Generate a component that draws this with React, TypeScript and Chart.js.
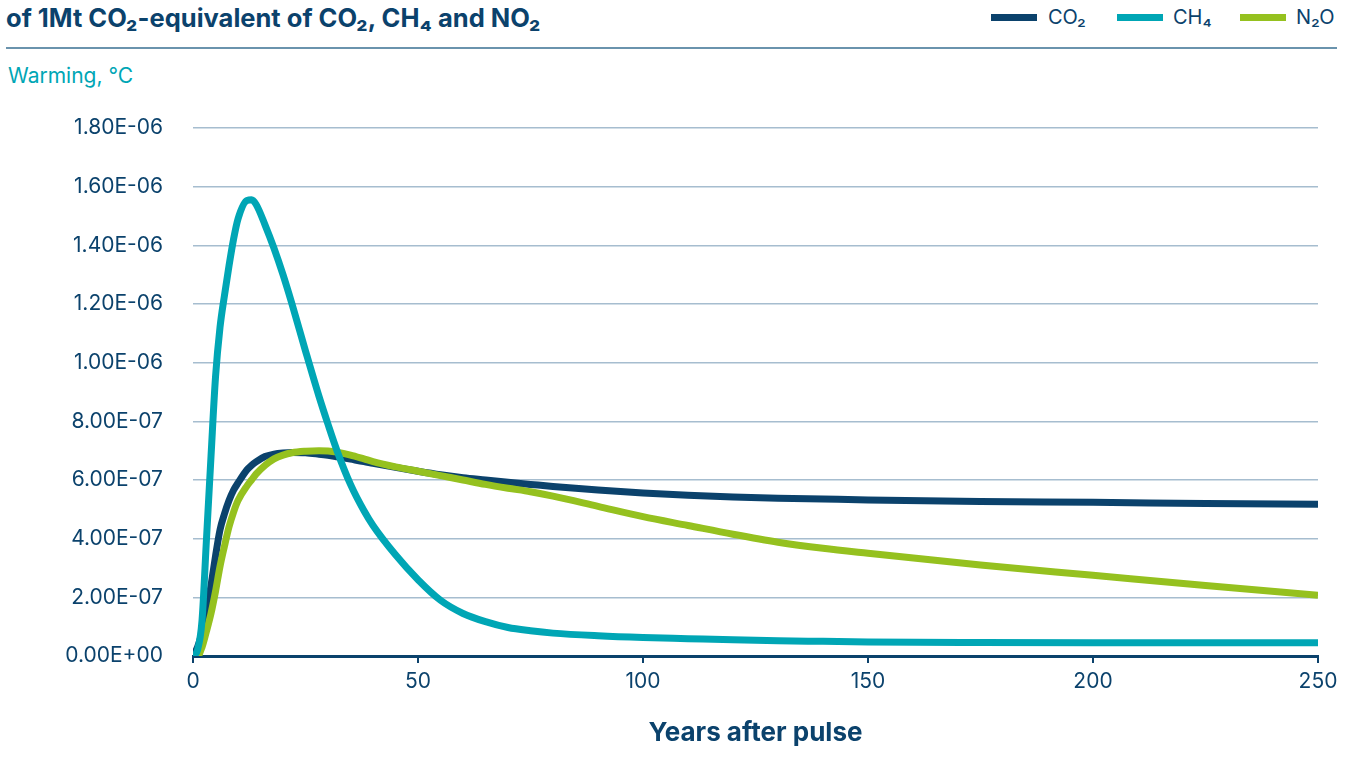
import React, { useEffect, useRef } from "react";
import { Chart, registerables } from "chart.js";

Chart.register(...registerables);

const years = [0, 1, 2, 3, 4, 5, 6, 7, 8, 9, 10, 12, 13, 14, 16, 18, 20, 22, 25, 28, 30, 32, 35, 38, 40, 45, 50, 55, 60, 65, 70, 75, 80, 90, 100, 110, 120, 130, 140, 150, 175, 200, 225, 250];

const co2 = [0, 0.3e-7, 0.8e-7, 1.5e-7, 2.4e-7, 3.4e-7, 4.3e-7, 4.85e-7, 5.3e-7, 5.65e-7, 5.9e-7, 6.35e-7, 6.5e-7, 6.62e-7, 6.8e-7, 6.88e-7, 6.92e-7, 6.94e-7, 6.93e-7, 6.88e-7, 6.84e-7, 6.79e-7, 6.71e-7, 6.63e-7, 6.57e-7, 6.43e-7, 6.3e-7, 6.18e-7, 6.08e-7, 6.0e-7, 5.92e-7, 5.85e-7, 5.78e-7, 5.66e-7, 5.56e-7, 5.48e-7, 5.42e-7, 5.38e-7, 5.35e-7, 5.32e-7, 5.27e-7, 5.24e-7, 5.2e-7, 5.17e-7];

const ch4 = [0, 0.2e-7, 1.2e-7, 4.0e-7, 6.8e-7, 9.5e-7, 1.12e-6, 1.23e-6, 1.33e-6, 1.42e-6, 1.49e-6, 1.553e-6, 1.555e-6, 1.54e-6, 1.47e-6, 1.39e-6, 1.3e-6, 1.2e-6, 1.04e-6, 0.885e-6, 0.79e-6, 0.7e-6, 0.585e-6, 0.495e-6, 0.445e-6, 0.345e-6, 0.26e-6, 0.19e-6, 0.145e-6, 0.117e-6, 0.097e-6, 0.086e-6, 0.078e-6, 0.069e-6, 0.063e-6, 0.059e-6, 0.055e-6, 0.052e-6, 0.05e-6, 0.048e-6, 0.046e-6, 0.045e-6, 0.045e-6, 0.045e-6];

const n2o = [0, 0, 0.3e-7, 0.85e-7, 1.45e-7, 2.2e-7, 3.05e-7, 3.75e-7, 4.4e-7, 4.9e-7, 5.3e-7, 5.8e-7, 6.0e-7, 6.2e-7, 6.5e-7, 6.72e-7, 6.85e-7, 6.93e-7, 6.98e-7, 7.0e-7, 6.99e-7, 6.95e-7, 6.85e-7, 6.72e-7, 6.63e-7, 6.45e-7, 6.3e-7, 6.15e-7, 6.0e-7, 5.85e-7, 5.72e-7, 5.6e-7, 5.45e-7, 5.1e-7, 4.75e-7, 4.45e-7, 4.15e-7, 3.88e-7, 3.67e-7, 3.5e-7, 3.1e-7, 2.75e-7, 2.4e-7, 2.07e-7];

const NAVY = "#0b426c";
const TEAL = "#00a6b5";
const GREEN = "#95c11f";
const GRID = "#a6bdcf";
const FONT = "Inter, 'Noto Sans', sans-serif";

const fmt = (v: number) => {
  if (Math.abs(v) < 1e-12) return "0.00E+00";
  const [m, e] = v.toExponential(2).split("e");
  const sign = e[0] === "-" ? "-" : "+";
  const d = e.replace(/[+-]/, "").padStart(2, "0");
  return `${m}E${sign}${d}`;
};

const pts = (vals: number[]) => years.map((x, i) => ({ x, y: vals[i] }));

const legendItems = [
  { label: "CO₂", color: NAVY, swatchX: 991, textX: 1048 },
  { label: "CH₄", color: TEAL, swatchX: 1117, textX: 1173 },
  { label: "N₂O", color: GREEN, swatchX: 1240, textX: 1296 },
];

export default function App() {
  const ref = useRef<HTMLCanvasElement>(null);
  useEffect(() => {
    if (!ref.current) return;
    const chart = new Chart(ref.current, {
      type: "line",
      data: {
        datasets: [
          { label: "CO₂", data: pts(co2), borderColor: NAVY, order: 2 },
          { label: "CH₄", data: pts(ch4), borderColor: TEAL, order: 0 },
          { label: "N₂O", data: pts(n2o), borderColor: GREEN, order: 1 },
        ].map((d) => ({
          ...d,
          borderWidth: 7,
          pointRadius: 0,
          fill: false,
          cubicInterpolationMode: "monotone" as const,
          borderCapStyle: "butt" as const,
        })),
      },
      options: {
        animation: false,
        responsive: true,
        maintainAspectRatio: false,
        layout: { padding: { top: 38, right: 34, left: 0, bottom: 0 } },
        plugins: { legend: { display: false }, tooltip: { enabled: false } },
        scales: {
          x: {
            type: "linear",
            min: 0,
            max: 250,
            ticks: { stepSize: 50, color: NAVY, font: { family: FONT, size: 21 }, padding: 6 },
            grid: { drawOnChartArea: false, drawTicks: true, tickLength: 7, color: NAVY, lineWidth: 2 },
            border: { color: NAVY, width: 3 },
            title: {
              display: true,
              text: "Years after pulse",
              color: NAVY,
              font: { family: FONT, size: 26, weight: "bold" },
              padding: { top: 0, bottom: 22 },
            },
            afterFit: (s: any) => { s.height = 115; },
          },
          y: {
            min: 0,
            max: 1.8e-6,
            ticks: { stepSize: 2e-7, color: NAVY, font: { family: FONT, size: 21 }, padding: 4, callback: (v: any) => fmt(Number(v)) },
            grid: { color: GRID, lineWidth: 1.5, drawTicks: true, tickLength: 26, tickColor: "rgba(0,0,0,0)" },
            border: { display: false },
            afterFit: (s: any) => { s.width = 193; },
          },
        },
      },
    });
    return () => chart.destroy();
  }, []);

  return (
    <div style={{ position: "absolute", left: 0, top: 0, width: 1352, height: 771, fontFamily: FONT, overflow: "hidden", background: "#fff" }}>
      <div style={{ position: "absolute", left: 6, top: 2, fontSize: 25.5, fontWeight: 700, color: NAVY, whiteSpace: "nowrap", lineHeight: "31px" }}>
        of 1Mt CO₂-equivalent of CO₂, CH₄ and NO₂
      </div>
      {legendItems.map((it) => (
        <React.Fragment key={it.label}>
          <div style={{ position: "absolute", left: it.swatchX, top: 14, width: 46, height: 7, background: it.color }} />
          <div style={{ position: "absolute", left: it.textX, top: 5, fontSize: 20, lineHeight: "24px", color: NAVY, whiteSpace: "nowrap" }}>{it.label}</div>
        </React.Fragment>
      ))}
      <div style={{ position: "absolute", left: 6, top: 47, width: 1331, height: 2, background: "#6a93ad" }} />
      <div style={{ position: "absolute", left: 8, top: 63, fontSize: 21, lineHeight: "25px", color: TEAL, whiteSpace: "nowrap" }}>Warming, °C</div>
      <div style={{ position: "absolute", left: 0, top: 90, width: 1352, height: 681 }}>
        <canvas ref={ref} />
      </div>
    </div>
  );
}
